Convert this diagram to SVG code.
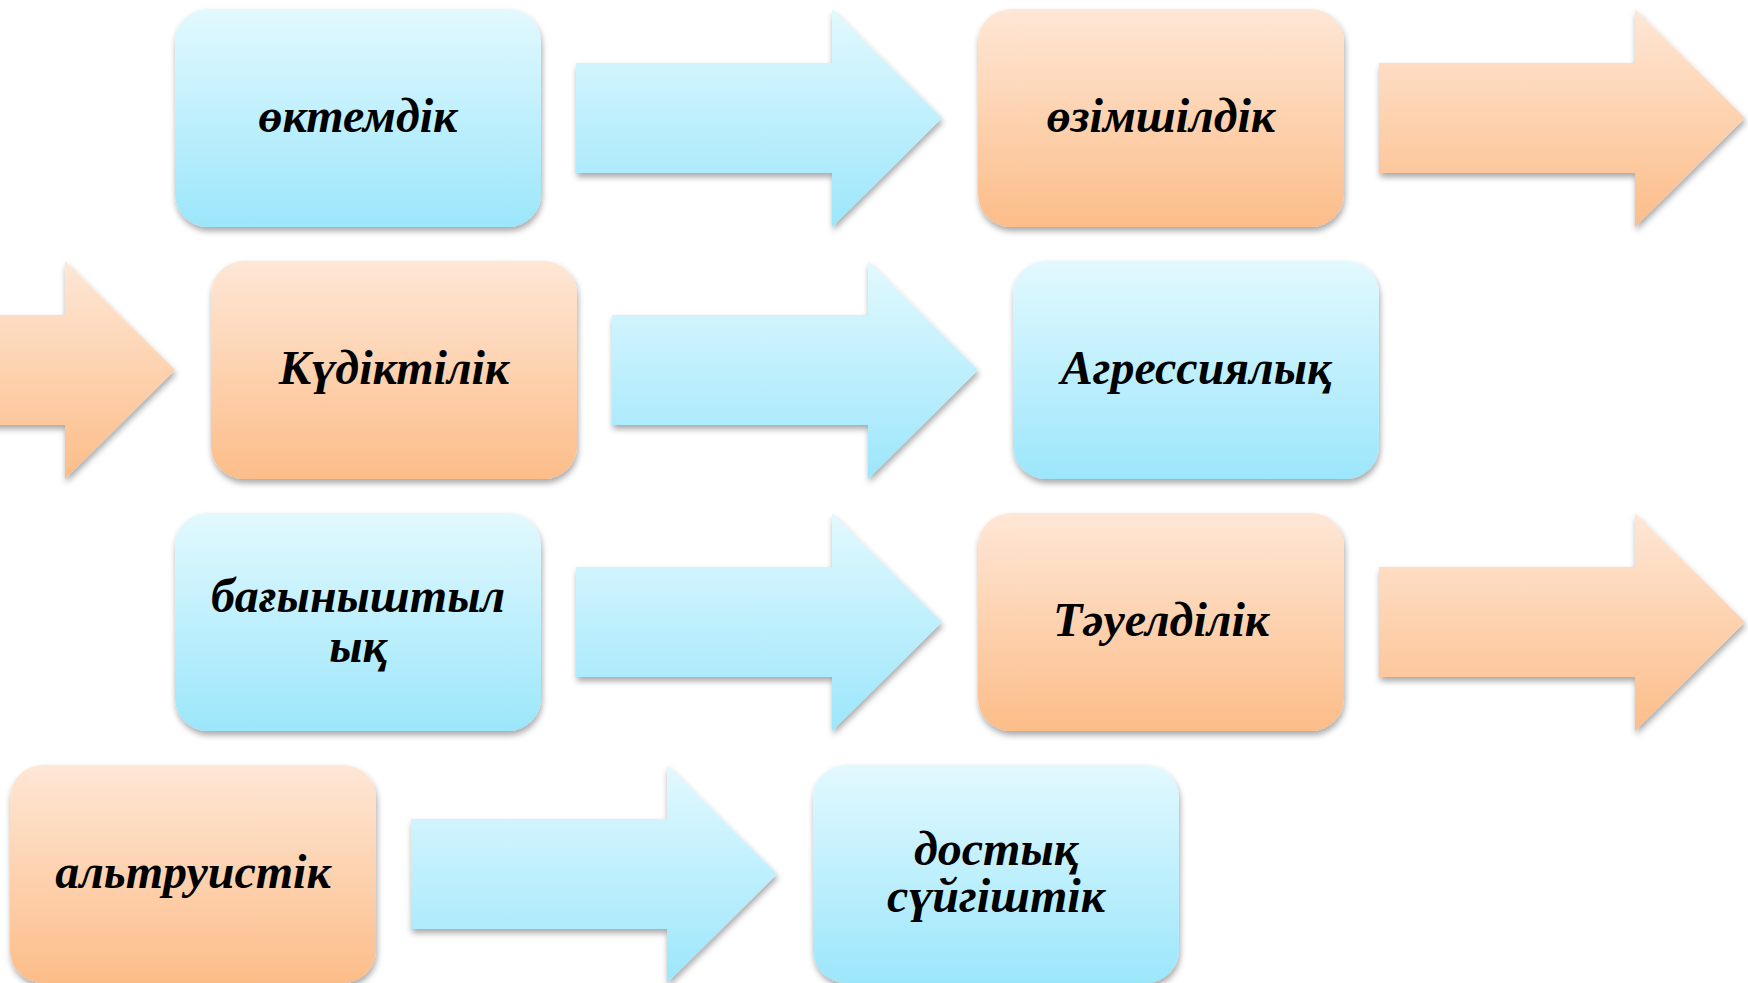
<svg xmlns="http://www.w3.org/2000/svg" width="1748" height="983" viewBox="0 0 1748 983">
<defs>
<linearGradient id="gb" x1="0" y1="0" x2="0" y2="1"><stop offset="0" stop-color="#e2f9fe"/><stop offset="1" stop-color="#9ce6fb"/></linearGradient>
<linearGradient id="go" x1="0" y1="0" x2="0" y2="1"><stop offset="0" stop-color="#fee7d6"/><stop offset="1" stop-color="#fcbd89"/></linearGradient>
<filter id="sh" x="-10%" y="-10%" width="125%" height="130%"><feDropShadow dx="1" dy="4" stdDeviation="3" flood-color="#000" flood-opacity="0.35"/></filter>
<style>
.bb{fill:url(#gb);filter:url(#sh)}
.bo{fill:url(#go);filter:url(#sh)}
.t{font-family:"Liberation Serif","Times New Roman",serif;font-weight:bold;font-style:italic;font-size:48px;fill:#000;text-anchor:middle}
</style>
</defs>
<rect width="1748" height="983" fill="#fff"/>
<g id="connectors">
<path class="bb" d="M576,63H832V9L942,118L832,227V173H576Z"/>
<path class="bo" d="M1379,63H1635V9L1745,118L1635,227V173H1379Z"/>
<path class="bo" d="M-191,315H65V261L175,370L65,479V425H-191Z"/>
<path class="bb" d="M612,315H868V261L978,370L868,479V425H612Z"/>
<path class="bb" d="M576,567H832V513L942,622L832,731V677H576Z"/>
<path class="bo" d="M1379,567H1635V513L1745,622L1635,731V677H1379Z"/>
<path class="bb" d="M411,819H667V765L777,874L667,983V929H411Z"/>
</g>
<g id="n1"><rect class="bb" x="175" y="9" width="366" height="218" rx="33"/><text class="t" x="358" y="132">өктемдік</text></g>
<g id="n2"><rect class="bo" x="978" y="9" width="366" height="218" rx="33"/><text class="t" x="1161" y="132">өзімшілдік</text></g>
<g id="n3"><rect class="bo" x="211" y="261" width="366" height="218" rx="33"/><text class="t" x="394" y="384">Күдіктілік</text></g>
<g id="n4"><rect class="bb" x="1013" y="261" width="366" height="218" rx="33"/><text class="t" x="1196" y="384">Агрессиялық</text></g>
<g id="n5"><rect class="bb" x="175" y="513" width="366" height="218" rx="33"/><text class="t" x="358" y="612">бағыныштыл</text><text class="t" x="358" y="662">ық</text></g>
<g id="n6"><rect class="bo" x="978" y="513" width="366" height="218" rx="33"/><text class="t" x="1161" y="636">Тәуелділік</text></g>
<g id="n7"><rect class="bo" x="10" y="765" width="366" height="218" rx="33"/><text class="t" x="193" y="888">альтруистік</text></g>
<g id="n8"><rect class="bb" x="813" y="765" width="366" height="218" rx="33"/><text class="t" x="996" y="865">достық</text><text class="t" x="996" y="912">сүйгіштік</text></g>
</svg>
